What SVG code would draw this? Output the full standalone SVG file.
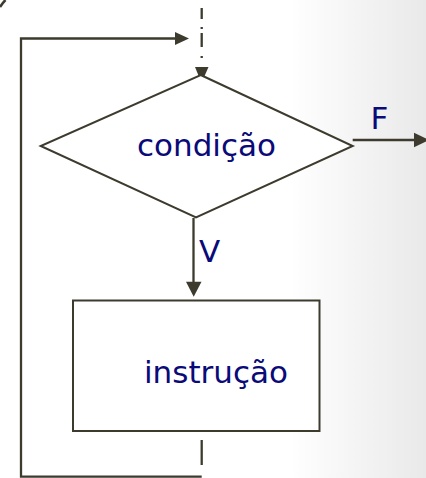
<svg xmlns="http://www.w3.org/2000/svg" width="426" height="478" viewBox="0 0 426 478">
  <defs>
    <linearGradient id="bg" x1="0" y1="0" x2="1" y2="0">
      <stop offset="0" stop-color="#ffffff"/>
      <stop offset="0.68" stop-color="#ffffff"/>
      <stop offset="1" stop-color="#e9e9e9"/>
    </linearGradient>
    <style>
      .ln { fill: none; stroke: #3d3b2e; stroke-width: 2.3; }
      .ah { fill: #3d3b2e; stroke: none; }
      .shape { fill: #ffffff; stroke: #3d3b2e; stroke-width: 2; }
      .lbl { font-family: "DejaVu Sans", Verdana, sans-serif; font-size: 31px; fill: #0a0a78; }
    </style>
  </defs>
  <rect x="0" y="0" width="426" height="478" fill="url(#bg)"/>
  <path d="M0,7 Q2.5,3 5.5,0" fill="none" stroke="#3d3b2e" stroke-width="2.5"/>

  <g id="connectors">
    <!-- entry dash-dot -->
    <line x1="201.7" y1="8" x2="201.7" y2="70" class="ln" stroke-width="2" stroke-dasharray="11 8 2 4 14 9 2 100"/>
    <polygon class="ah" points="195,67 208.5,67 201.5,83"/>
    <!-- loop back -->
    <polyline class="ln" points="201.7,476.7 21,476.7 21,38.5 177,38.5"/>
    <polygon class="ah" points="175,32 189,38.5 175,45"/>
    <line class="ln" x1="201.7" y1="440" x2="201.7" y2="465" stroke-width="2"/>
    <!-- F exit -->
    <line class="ln" x1="352.7" y1="140" x2="416" y2="140"/>
    <polygon class="ah" points="414,132.7 429,140 414,147.3"/>
    <!-- V -->
    <line class="ln" x1="193.5" y1="218" x2="193.5" y2="284"/>
    <polygon class="ah" points="186,281.7 201.5,281.7 193.7,296.7"/>
  </g>

  <g id="node-condicao">
    <polygon class="shape" points="200.7,75 352.7,146 196,217.3 40.7,146"/>
    <text class="lbl" x="137" y="156">condição</text>
  </g>

  <g id="node-instrucao">
    <rect class="shape" x="73" y="300.5" width="246.5" height="130.5" stroke="#4a4840"/>
    <text class="lbl" x="144" y="382.5">instrução</text>
  </g>

  <text class="lbl" x="370.5" y="129.3">F</text>
  <text class="lbl" x="199" y="261.7">V</text>
</svg>
